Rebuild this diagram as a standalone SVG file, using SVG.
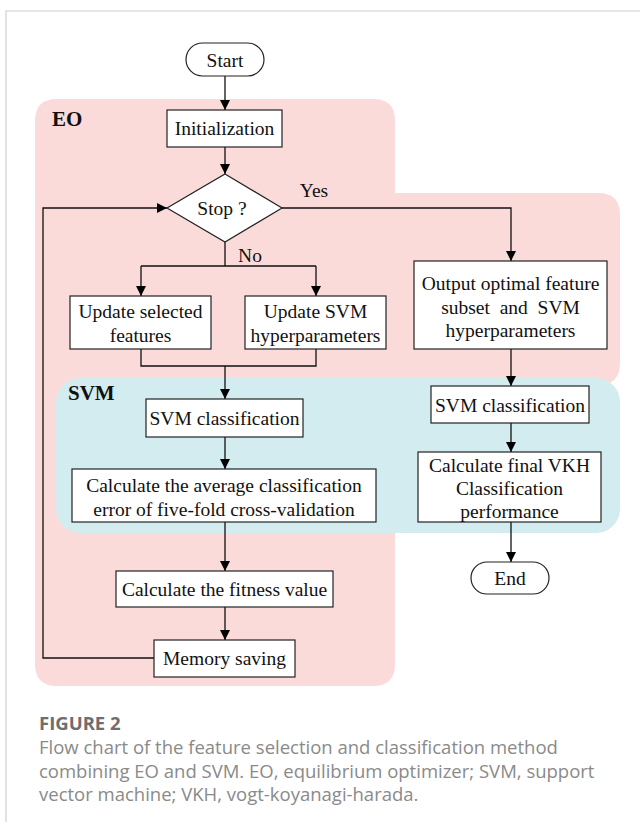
<svg xmlns="http://www.w3.org/2000/svg" width="640" height="822" viewBox="0 0 640 822">
<defs>
<marker id="ah" viewBox="0 0 10 10" refX="10" refY="5" markerWidth="10" markerHeight="10" markerUnits="userSpaceOnUse" orient="auto">
<path d="M0,0 L10,5 L0,10 Z" fill="#000"/>
</marker>
<style>
.box{fill:#fff;stroke:#222;stroke-width:1.2}
.t{font-family:"Liberation Serif","Times New Roman",serif;font-size:19.5px;fill:#111;text-anchor:middle}
.lbl{font-family:"Liberation Serif","Times New Roman",serif;font-size:21px;font-weight:bold;fill:#111}
.c{fill:none;stroke:#111;stroke-width:1.3}
.a{marker-end:url(#ah)}
.cap{font-family:"Open Sans","Noto Sans",sans-serif;font-size:18.5px;fill:#8a8a8a}
</style>
</defs>
<rect width="640" height="822" fill="#fff"/>
<path d="M6,822 V11 H640" fill="none" stroke="#cfcfcf" stroke-width="1.2"/>
<g id="region-eo">
<path d="M57,99 H373 Q395,99 395,121 V193 H598 Q620,193 620,215 V363 Q620,385 598,385 H395 V664 Q395,686 373,686 H57 Q35,686 35,664 V121 Q35,99 57,99 Z" fill="#fadbd9"/>
<text class="lbl" x="52" y="126">EO</text>
</g>
<g id="region-svm">
<rect x="56" y="378" width="564" height="155" rx="24" fill="#d3ecf0"/>
<text class="lbl" x="68" y="400">SVM</text>
</g>
<g id="connectors">
<path class="c a" d="M225,76 V110"/>
<path class="c a" d="M225,147 V174"/>
<path class="c a" d="M282,208 H511 V261"/>
<path class="c" d="M225,242 V266 M141,266 H316"/>
<path class="c a" d="M141,266 V296"/>
<path class="c a" d="M316,266 V296"/>
<path class="c" d="M141,349 V366 H316 V349"/>
<path class="c a" d="M225,366 V399"/>
<path class="c a" d="M225,437 V469"/>
<path class="c a" d="M225,522 V571"/>
<path class="c a" d="M225,607 V640"/>
<path class="c a" d="M154,658 H43 V208 H167"/>
<path class="c a" d="M511,349 V386"/>
<path class="c a" d="M511,423 V452"/>
<path class="c a" d="M511,522 V562"/>
<text class="t" x="314" y="197">Yes</text>
<text class="t" x="250" y="262">No</text>
</g>
<g id="start">
<rect class="box" x="186" y="43" width="78" height="33" rx="16.5"/>
<text class="t" x="225" y="66.5">Start</text>
</g>
<g id="init">
<rect class="box" x="167" y="110" width="115" height="37"/>
<text class="t" x="224.5" y="135">Initialization</text>
</g>
<g id="stop">
<path class="box" d="M225,174 L282,208 L225,242 L167,208 Z"/>
<text class="t" x="222" y="214.5">Stop ?</text>
</g>
<g id="upd-feat">
<rect class="box" x="70" y="296" width="141" height="53"/>
<text class="t" x="140.5" y="318">Update selected</text>
<text class="t" x="140.5" y="342">features</text>
</g>
<g id="upd-svm">
<rect class="box" x="245" y="296" width="141" height="53"/>
<text class="t" x="315.5" y="318">Update SVM</text>
<text class="t" x="315.5" y="342">hyperparameters</text>
</g>
<g id="output">
<rect class="box" x="414" y="261" width="193" height="88"/>
<text class="t" x="510.5" y="290">Output optimal feature</text>
<text class="t" x="510.5" y="314">subset&#160; and&#160; SVM</text>
<text class="t" x="510.5" y="337">hyperparameters</text>
</g>
<g id="svm-left">
<rect class="box" x="146" y="399" width="157" height="38"/>
<text class="t" x="224.5" y="425">SVM classification</text>
</g>
<g id="avg">
<rect class="box" x="72" y="469" width="304" height="53"/>
<text class="t" x="224" y="492">Calculate the average classification</text>
<text class="t" x="224" y="516">error of five-fold cross-validation</text>
</g>
<g id="fitness">
<rect class="box" x="116" y="571" width="217" height="36"/>
<text class="t" x="224.5" y="596">Calculate the fitness value</text>
</g>
<g id="memory">
<rect class="box" x="154" y="640" width="141" height="37"/>
<text class="t" x="224.5" y="665">Memory saving</text>
</g>
<g id="svm-right">
<rect class="box" x="431" y="386" width="158" height="37"/>
<text class="t" x="510" y="412">SVM classification</text>
</g>
<g id="vkh">
<rect class="box" x="418" y="452" width="183" height="70"/>
<text class="t" x="509.5" y="472">Calculate final VKH</text>
<text class="t" x="509.5" y="495">Classification</text>
<text class="t" x="509.5" y="518">performance</text>
</g>
<g id="end">
<rect class="box" x="471" y="562" width="78" height="32" rx="16"/>
<text class="t" x="510" y="585">End</text>
</g>
<g id="caption">
<text class="cap" x="39" y="730" style="font-weight:bold;fill:#6e6e6e">FIGURE 2</text>
<text class="cap" x="39" y="754">Flow chart of the feature selection and classification method</text>
<text class="cap" x="39" y="778">combining EO and SVM. EO, equilibrium optimizer; SVM, support</text>
<text class="cap" x="39" y="801">vector machine; VKH, vogt-koyanagi-harada.</text>
</g>
</svg>
